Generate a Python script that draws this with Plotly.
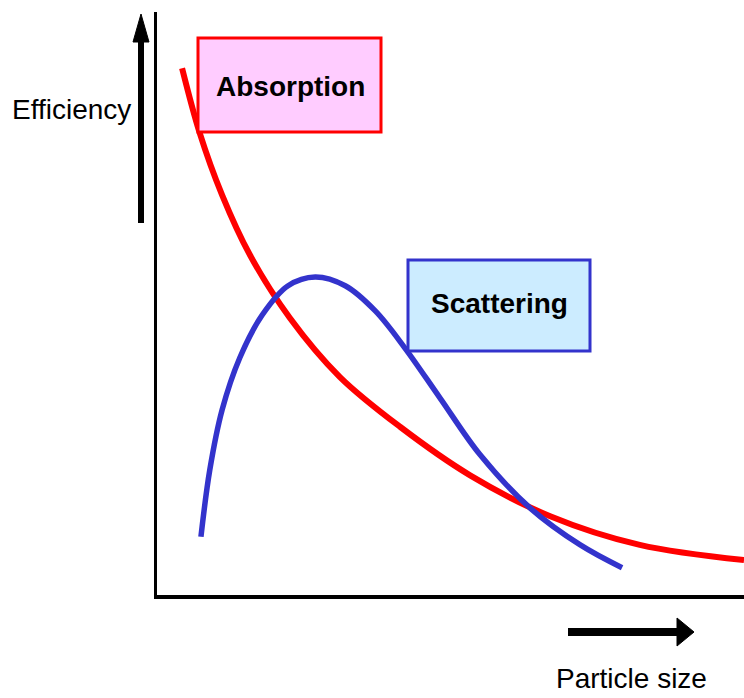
import plotly.graph_objects as go

# ---- data (particle size vs efficiency, arbitrary units 0..10) ----
absorption_x = [0.46, 0.76, 1.14, 1.61, 2.29, 3.14, 4.16, 5.35, 6.71, 8.23, 10.0]
absorption_y = [9.04, 7.93, 6.87, 5.85, 4.77, 3.76, 2.91, 2.08, 1.38, 0.89, 0.63]

scattering_x = [0.78, 0.93, 1.14, 1.44, 1.82, 2.26, 2.72, 3.23, 3.74, 4.24, 4.84, 5.52, 6.37, 7.22, 7.93]
scattering_y = [1.03, 2.17, 3.20, 4.09, 4.82, 5.32, 5.47, 5.32, 4.89, 4.26, 3.40, 2.43, 1.52, 0.89, 0.50]

labels = {"absorption": "Absorption", "scattering": "Scattering",
          "y": "Efficiency", "x": "Particle size"}

W, H = 744, 698
L, R, T, B = 157, 0, 12, 103
PW, PH = W - L - R, H - T - B

def px(x):   # pixel -> paper x
    return (x - L) / PW

def py(y):   # pixel -> paper y
    return (H - B - y) / PH

FONT = "Liberation Sans, Arial, sans-serif"

fig = go.Figure()
fig.add_trace(go.Scatter(x=absorption_x, y=absorption_y, mode="lines",
                         line=dict(color="#FF0000", width=6, shape="spline"),
                         name=labels["absorption"], cliponaxis=False))
fig.add_trace(go.Scatter(x=scattering_x, y=scattering_y, mode="lines",
                         line=dict(color="#3333CC", width=5.5, shape="spline"),
                         name=labels["scattering"], cliponaxis=False))

shapes = [
    # label boxes
    dict(type="rect", xref="paper", yref="paper", x0=px(198), x1=px(381), y0=py(132), y1=py(38),
         fillcolor="#FFCCFF", line=dict(color="#FF0000", width=3), layer="above"),
    dict(type="rect", xref="paper", yref="paper", x0=px(408), x1=px(590), y0=py(351), y1=py(260),
         fillcolor="#CCECFF", line=dict(color="#3333CC", width=3), layer="above"),
    # up arrow
    dict(type="line", xref="paper", yref="paper", x0=px(141), x1=px(141), y0=py(223), y1=py(40),
         line=dict(color="black", width=6)),
    dict(type="path", xref="paper", yref="paper",
         path=f"M {px(133)},{py(42)} L {px(149)},{py(42)} L {px(141)},{py(14)} Z",
         fillcolor="black", line=dict(color="black", width=1)),
    # right arrow
    dict(type="line", xref="paper", yref="paper", x0=px(568), x1=px(680), y0=py(632), y1=py(632),
         line=dict(color="black", width=8)),
    dict(type="path", xref="paper", yref="paper",
         path=f"M {px(677)},{py(618)} L {px(677)},{py(646)} L {px(694)},{py(632)} Z",
         fillcolor="black", line=dict(color="black", width=1)),
]

annotations = [
    dict(text=f"<b>{labels['absorption']}</b>", xref="paper", yref="paper", x=px(290), y=py(86),
         showarrow=False, font=dict(family=FONT, size=28, color="black"),
         xanchor="center", yanchor="middle"),
    dict(text=f"<b>{labels['scattering']}</b>", xref="paper", yref="paper", x=px(499), y=py(303),
         showarrow=False, font=dict(family=FONT, size=28, color="black"),
         xanchor="center", yanchor="middle"),
    dict(text=labels["y"], xref="paper", yref="paper", x=px(71), y=py(109),
         showarrow=False, font=dict(family=FONT, size=28, color="black"),
         xanchor="center", yanchor="middle"),
    dict(text=labels["x"], xref="paper", yref="paper", x=px(631), y=py(678),
         showarrow=False, font=dict(family=FONT, size=28, color="black"),
         xanchor="center", yanchor="middle"),
]

fig.update_layout(
    width=W, height=H,
    margin=dict(l=L, r=R, t=T, b=B, pad=0),
    paper_bgcolor="white", plot_bgcolor="white",
    showlegend=False,
    shapes=shapes, annotations=annotations,
    xaxis=dict(range=[0.034, 10], showgrid=False, zeroline=False, showticklabels=False, ticks="",
               showline=True, linecolor="black", linewidth=4, fixedrange=True),
    yaxis=dict(range=[0.034, 10], showgrid=False, zeroline=False, showticklabels=False, ticks="",
               showline=True, linecolor="black", linewidth=3, fixedrange=True),
)

fig.write_html("out.html", config={"displayModeBar": False},
               post_script="document.body.style.margin='0';document.body.style.padding='0';")
